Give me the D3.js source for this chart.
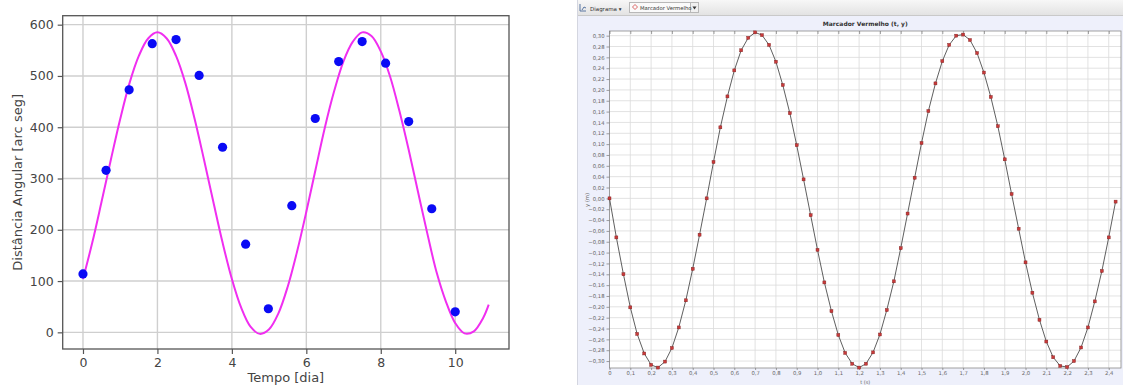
<!DOCTYPE html>
<html>
<head>
<meta charset="utf-8">
<script src="https://cdn.jsdelivr.net/npm/d3@7"></script>
<style>
  body { margin: 0; background: #fff; }
  svg { display: block; }
</style>
</head>
<body>
<script>
// --- left chart: observations + fitted curve ---
const diasObs = [0, 0.62, 1.24, 1.86, 2.5, 3.12, 3.75, 4.37, 4.98, 5.61, 6.24, 6.87, 7.5, 8.13, 8.75, 9.37, 10.0];
const distObs = [114, 316, 473, 563, 571, 501, 361, 172, 46, 247, 417, 528, 567, 525, 411, 241, 40];

const diasAjuste = [0, 0.25, 0.5, 0.75, 1, 1.25, 1.5, 1.75, 2, 2.25, 2.5, 2.75, 3, 3.25, 3.5, 3.75, 4, 4.25, 4.5, 4.75,
  5, 5.25, 5.5, 5.75, 6, 6.25, 6.5, 6.75, 7, 7.25, 7.5, 7.75, 8, 8.25, 8.5, 8.75, 9, 9.25, 9.5, 9.75, 10, 10.25, 10.5, 10.75, 10.9];
const distAjuste = [104, 175, 255, 337, 416, 486, 539, 573, 585, 573, 539, 486, 416, 337, 255, 175, 104, 48, 11, -3,
  6, 37, 89, 157, 235, 318, 400, 471, 529, 567, 585, 578, 548, 499, 432, 356, 274, 193, 117, 60, 18, -2, 2, 28, 54];

const ticksDias = [0, 2, 4, 6, 8, 10];
const ticksDist = [0, 100, 200, 300, 400, 500, 600];

// --- right chart: Tracker capture (t, y) ---
const tempoS = [0, .033, .067, .1, .133, .167, .2, .233, .267, .3,
  .333, .367, .4, .433, .467, .5, .533, .567, .6, .633,
  .667, .7, .733, .767, .8, .833, .867, .9, .933, .967,
  1, 1.033, 1.067, 1.1, 1.133, 1.167, 1.2, 1.233, 1.267, 1.3,
  1.333, 1.367, 1.4, 1.433, 1.467, 1.5, 1.533, 1.567, 1.6, 1.633,
  1.667, 1.7, 1.733, 1.767, 1.8, 1.833, 1.867, 1.9, 1.933, 1.967,
  2, 2.033, 2.067, 2.1, 2.133, 2.167, 2.2, 2.233, 2.267, 2.3,
  2.333, 2.367, 2.4, 2.433];
const posY = [0.000, -0.072, -0.140, -0.201, -0.250, -0.286, -0.307, -0.312, -0.301, -0.276,
  -0.238, -0.188, -0.130, -0.067, 0.000, 0.067, 0.131, 0.188, 0.236, 0.273,
  0.296, 0.306, 0.301, 0.283, 0.252, 0.209, 0.157, 0.098, 0.035, -0.031,
  -0.095, -0.155, -0.208, -0.252, -0.285, -0.305, -0.312, -0.305, -0.284, -0.251,
  -0.206, -0.153, -0.092, -0.028, 0.038, 0.102, 0.161, 0.212, 0.253, 0.283,
  0.300, 0.302, 0.292, 0.268, 0.232, 0.187, 0.133, 0.072, 0.008, -0.056,
  -0.118, -0.174, -0.224, -0.264, -0.293, -0.309, -0.311, -0.300, -0.275, -0.238,
  -0.190, -0.134, -0.072, -0.006];

const ticksT = d3.range(0, 25).map(i => i / 10);
const ticksY = d3.range(-15, 16).map(i => i / 50);

const svg = d3.select("body").append("svg")
  .attr("width", 1123)
  .attr("height", 385);

drawLeft();
drawRight();

function drawLeft() {
  const left = 62.7, right = 509, top = 15.7, bottom = 349;
  const x = d3.scaleLinear().domain([-0.545, 11.445]).range([left, right]);
  const y = d3.scaleLinear().domain([-32.5, 617.5]).range([bottom, top]);
  const g = svg.append("g");

  // grid
  g.selectAll(".gx").data(ticksDias).enter().append("line")
    .attr("x1", d => x(d)).attr("x2", d => x(d))
    .attr("y1", top).attr("y2", bottom)
    .attr("stroke", "#cfcfcf").attr("stroke-width", 1.4);
  g.selectAll(".gy").data(ticksDist).enter().append("line")
    .attr("x1", left).attr("x2", right)
    .attr("y1", d => y(d)).attr("y2", d => y(d))
    .attr("stroke", "#cfcfcf").attr("stroke-width", 1.4);

  // fitted curve
  const line = d3.line()
    .x((d, i) => x(diasAjuste[i]))
    .y(d => y(d))
    .curve(d3.curveCatmullRom);
  g.append("path")
    .datum(distAjuste)
    .attr("d", line)
    .attr("fill", "none")
    .attr("stroke", "#f02ef0")
    .attr("stroke-width", 2);

  // observed points
  g.selectAll(".obs").data(distObs).enter().append("circle")
    .attr("cx", (d, i) => x(diasObs[i]))
    .attr("cy", d => y(d))
    .attr("r", 4.6)
    .attr("fill", "#0a0af5");

  // frame
  g.append("rect")
    .attr("x", left).attr("y", top)
    .attr("width", right - left).attr("height", bottom - top)
    .attr("fill", "none").attr("stroke", "#555").attr("stroke-width", 1.3);

  const xAxis = g.append("g")
    .attr("transform", "translate(0," + bottom + ")")
    .call(d3.axisBottom(x).tickValues(ticksDias).tickSize(5).tickPadding(4).tickFormat(d3.format("d")));
  const yAxis = g.append("g")
    .attr("transform", "translate(" + left + ",0)")
    .call(d3.axisLeft(y).tickValues(ticksDist).tickSize(5).tickPadding(4).tickFormat(d3.format("d")));

  [xAxis, yAxis].forEach(a => {
    a.select(".domain").remove();
    a.selectAll("line").attr("stroke", "#555").attr("stroke-width", 1.2);
    a.selectAll("text")
      .attr("fill", "#444")
      .style("font-family", "DejaVu Sans")
      .style("font-size", "12.5px");
  });

  g.append("text")
    .attr("x", (left + right) / 2).attr("y", 381.5)
    .attr("text-anchor", "middle")
    .attr("fill", "#444")
    .style("font-family", "DejaVu Sans").style("font-size", "13px")
    .text("Tempo [dia]");

  g.append("text")
    .attr("transform", "translate(22," + ((top + bottom) / 2) + ") rotate(-90)")
    .attr("text-anchor", "middle")
    .attr("fill", "#444")
    .style("font-family", "DejaVu Sans").style("font-size", "13px")
    .text("Distância Angular [arc seg]");
}

function drawRight() {
  const g = svg.append("g");
  const px = 577, pw = 1123 - 577;

  // toolbar
  const grad = svg.append("defs").append("linearGradient")
    .attr("id", "barra").attr("x1", 0).attr("x2", 0).attr("y1", 0).attr("y2", 1);
  grad.append("stop").attr("offset", 0).attr("stop-color", "#f7f7f7");
  grad.append("stop").attr("offset", 1).attr("stop-color", "#e3e3e3");

  g.append("rect").attr("x", px).attr("y", 0).attr("width", pw).attr("height", 15)
    .attr("fill", "url(#barra)");
  g.append("line").attr("x1", px).attr("x2", 1123).attr("y1", 15.5).attr("y2", 15.5)
    .attr("stroke", "#c9c9c9");

  // panel
  g.append("rect").attr("x", px).attr("y", 16).attr("width", pw).attr("height", 369)
    .attr("fill", "#eef0fb");
  g.append("line").attr("x1", px + 0.5).attr("x2", px + 0.5).attr("y1", 0).attr("y2", 385)
    .attr("stroke", "#d4d6e0");

  // toolbar widgets
  g.append("path").attr("d", "M580,4 v7 h6 M582,10 l2,-3 l2,1")
    .attr("fill", "none").attr("stroke", "#4a6a9a").attr("stroke-width", 0.9);
  g.append("text").attr("x", 590).attr("y", 10.5)
    .style("font-family", "DejaVu Sans").style("font-size", "5.5px").attr("fill", "#333")
    .text("Diagrama ▾");
  g.append("rect").attr("x", 629.5).attr("y", 2.5).attr("width", 61).attr("height", 10)
    .attr("fill", "#fafafa").attr("stroke", "#b8b8b8");
  g.append("rect").attr("x", 690.5).attr("y", 2.5).attr("width", 8).attr("height", 10)
    .attr("fill", "#f0f0f0").attr("stroke", "#b8b8b8");
  g.append("path").attr("d", "M692.5,6.5 h4 l-2,3 z").attr("fill", "#333");
  g.append("path").attr("d", "M635,4.5 l2.5,2.5 l-2.5,2.5 l-2.5,-2.5 z")
    .attr("fill", "none").attr("stroke", "#d04040").attr("stroke-width", 0.8);
  g.append("text").attr("x", 640).attr("y", 10)
    .style("font-family", "DejaVu Sans").style("font-size", "5.3px").attr("fill", "#333")
    .text("Marcador Vermelho");

  // plot
  const left = 609.5, right = 1121, top = 31, bottom = 368;
  const x = d3.scaleLinear().domain([0, 2.459]).range([left, right]);
  const y = d3.scaleLinear().domain([-0.3128, 0.3086]).range([bottom, top]);

  g.append("text")
    .attr("x", (left + right) / 2).attr("y", 26)
    .attr("text-anchor", "middle")
    .style("font-family", "DejaVu Sans").style("font-size", "6px").style("font-weight", "bold")
    .attr("fill", "#333")
    .text("Marcador Vermelho (t, y)");

  g.append("rect").attr("x", left).attr("y", top)
    .attr("width", right - left).attr("height", bottom - top)
    .attr("fill", "#fff");

  g.selectAll(".tgx").data(ticksT).enter().append("line")
    .attr("x1", d => x(d)).attr("x2", d => x(d))
    .attr("y1", top).attr("y2", bottom)
    .attr("stroke", "#dadada").attr("stroke-width", 0.8);
  g.selectAll(".tgy").data(ticksY).enter().append("line")
    .attr("x1", left).attr("x2", right)
    .attr("y1", d => y(d)).attr("y2", d => y(d))
    .attr("stroke", "#dadada").attr("stroke-width", 0.8);

  g.append("rect").attr("x", left).attr("y", top)
    .attr("width", right - left).attr("height", bottom - top)
    .attr("fill", "none").attr("stroke", "#8a8a8a").attr("stroke-width", 0.8);

  const virgula = f => (d => f(d).replace(".", ","));
  const axX = g.append("g").attr("transform", "translate(0," + bottom + ")")
    .call(d3.axisBottom(x).tickValues(ticksT).tickSize(2).tickPadding(1.5)
      .tickFormat(d => d === 0 ? "0" : virgula(d3.format(".1f"))(d)));
  const axY = g.append("g").attr("transform", "translate(" + left + ",0)")
    .call(d3.axisLeft(y).tickValues(ticksY).tickSize(3).tickPadding(2)
      .tickFormat(virgula(d3.format(".2f"))));
  const axTop = g.append("g").attr("transform", "translate(0," + top + ")")
    .call(d3.axisBottom(x).tickValues(ticksT).tickSize(3).tickFormat(""));

  [axX, axY, axTop].forEach(a => {
    a.select(".domain").remove();
    a.selectAll("line").attr("stroke", "#777").attr("stroke-width", 0.7);
    a.selectAll("text")
      .attr("fill", "#666")
      .style("font-family", "DejaVu Sans")
      .style("font-size", "5.3px");
  });

  g.append("text")
    .attr("x", (left + right) / 2).attr("y", 383.5)
    .attr("text-anchor", "middle").attr("fill", "#666")
    .style("font-family", "DejaVu Sans").style("font-size", "5px")
    .text("t (s)");
  g.append("text")
    .attr("transform", "translate(589,200) rotate(-90)")
    .attr("text-anchor", "middle").attr("fill", "#666")
    .style("font-family", "DejaVu Sans").style("font-size", "5.3px")
    .text("y (m)");

  // trace
  const linha = d3.line()
    .x((d, i) => x(tempoS[i]))
    .y(d => y(d));
  g.append("path")
    .datum(posY)
    .attr("d", linha)
    .attr("fill", "none")
    .attr("stroke", "#4d4d4d")
    .attr("stroke-width", 0.9);

  g.selectAll(".mk").data(posY).enter().append("rect")
    .attr("x", (d, i) => x(tempoS[i]) - 1.5)
    .attr("y", d => y(d) - 1.5)
    .attr("width", 3).attr("height", 3)
    .attr("fill", "#c83a3a")
    .attr("stroke", "#7a1f1f")
    .attr("stroke-width", 0.4);
}
</script>
</body>
</html>
